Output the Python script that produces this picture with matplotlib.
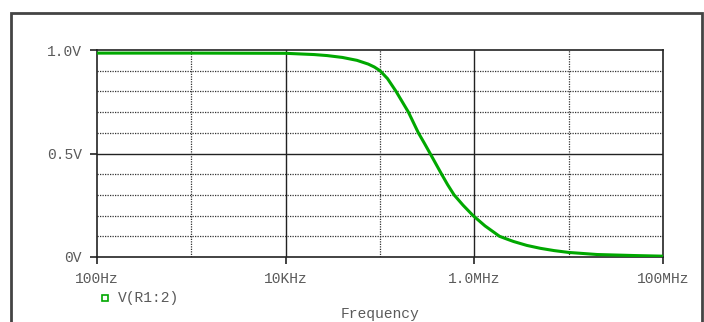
import matplotlib
matplotlib.use("Agg")
import matplotlib.pyplot as plt
from matplotlib.lines import Line2D
from matplotlib.patches import Rectangle
from matplotlib.ticker import FixedLocator, NullLocator

# values (AC sweep, V(R1:2))
freq = [100, 1e3, 1e4, 2e4, 2.76e4, 4e4, 5.7e4, 7.5e4, 8.7e4, 1e5, 1.2e5, 1.48e5, 2e5,
        2.55e5, 2.95e5, 3.4e5, 4.5e5, 5.2e5, 6.1e5, 7.6e5, 9.7e5, 1.3e6, 1.85e6, 2.2e6,
        2.6e6, 3.6e6, 5e6, 7e6, 1e7, 2e7, 5e7, 1e8]
volts = [0.985, 0.985, 0.984, 0.978, 0.973, 0.964, 0.950, 0.932, 0.918, 0.90, 0.862,
         0.80, 0.70, 0.60, 0.55, 0.50, 0.40, 0.35, 0.30, 0.25, 0.20, 0.15, 0.10, 0.087,
         0.075, 0.056, 0.042, 0.031, 0.022, 0.012, 0.007, 0.004]

xticks = [100, 1e4, 1e6, 1e8]
xlabels = ["100Hz", "10KHz", "1.0MHz", "100MHz"]
xminor = [1e3, 1e5, 1e7]
yticks = [0, 0.5, 1.0]
ylabels = ["0V", "0.5V", "1.0V"]
yminor = [0.1, 0.2, 0.3, 0.4, 0.6, 0.7, 0.8, 0.9]

green = "#00a800"
txt = "#5a5a5a"
mono = "Liberation Mono"
fs = 10.5

W, H = 704, 322
fig = plt.figure(figsize=(W / 100, H / 100), dpi=100)

# outer frame
fig.patches.append(Rectangle((11 / W, -0.1), (702 - 11) / W, 1.1 - 13 / H,
                             transform=fig.transFigure, fill=False,
                             edgecolor="#444444", linewidth=2))

ax = fig.add_axes([97 / W, 1 - 257 / H, (663 - 97) / W, (257 - 50) / H])
ax.set_xscale("log")
ax.set_xlim(100, 1e8)
ax.set_ylim(0, 1.0)

# grid
for f in xticks[1:-1]:
    ax.axvline(f, color="#222222", lw=1.0, zorder=1)
for f in xminor:
    ax.axvline(f, color="#333333", lw=0.9, ls=(0, (1, 1)), zorder=1)
ax.axhline(0.5, color="#222222", lw=1.0, zorder=1)
for v in yminor:
    ax.axhline(v, color="#333333", lw=0.9, ls=(0, (1, 1)), zorder=1)

ax.plot(freq, volts, color=green, lw=2.2, zorder=3)

for s in ax.spines.values():
    s.set_color("#222222")
    s.set_linewidth(1.2)

ax.xaxis.set_major_locator(FixedLocator(xticks))
ax.xaxis.set_minor_locator(NullLocator())
ax.set_xticklabels(xlabels)
ax.set_yticks(yticks)
ax.set_yticklabels(ylabels)
ax.tick_params(axis="both", which="major", length=5, width=1.2, color="#222222",
               labelcolor=txt, labelsize=fs)
ax.tick_params(axis="x", pad=6)
ax.tick_params(axis="y", pad=6)
for lab in ax.get_xticklabels() + ax.get_yticklabels():
    lab.set_fontfamily(mono)

# legend entry
fig.add_artist(Line2D([104.7 / W], [1 - 298 / H], transform=fig.transFigure,
                      marker="s", markersize=4.5, markerfacecolor="none",
                      markeredgecolor=green, markeredgewidth=1.2, linestyle="none"))
fig.text(118 / W, 1 - 298 / H, "V(R1:2)", fontsize=fs, family=mono, color=txt,
         va="center", ha="left")

fig.text(380 / W, 1 - 314 / H, "Frequency", fontsize=fs, family=mono, color=txt,
         va="center", ha="center")

fig.savefig("out.png", dpi=100)
